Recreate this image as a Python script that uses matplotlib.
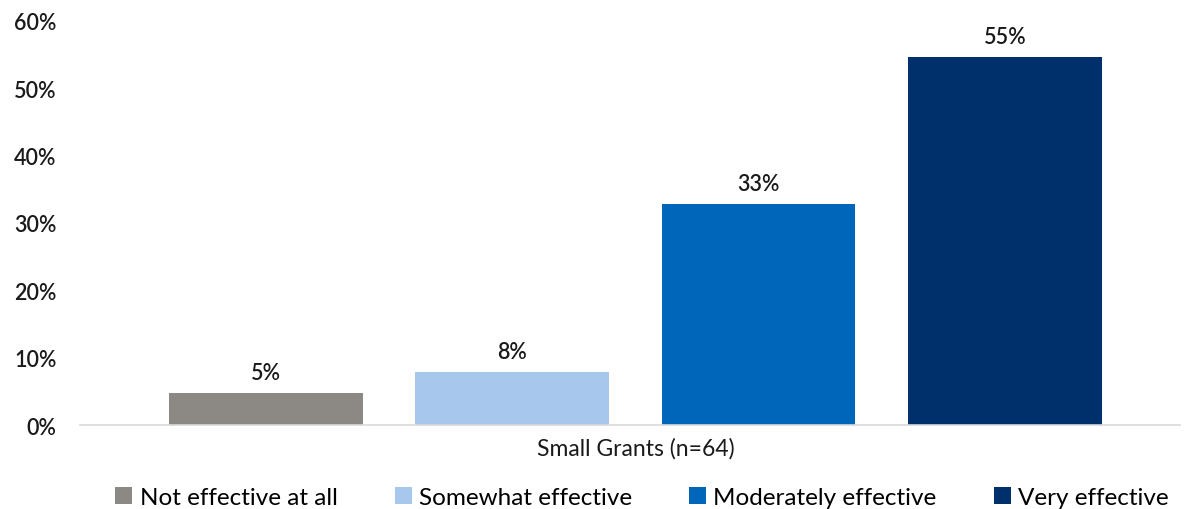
"""
Bar chart: perceived effectiveness of small grants
"""
import matplotlib
matplotlib.use("Agg")
import matplotlib.pyplot as plt
from matplotlib.ticker import PercentFormatter

plt.rcParams['font.family'] = ['Lato', 'DejaVu Sans']

# Survey data
group_label = "Small Grants (n=64)"
responses = ["Not effective at all", "Somewhat effective",
             "Moderately effective", "Very effective"]
shares = [4.7, 7.8, 32.8, 54.7]
colors = ["#8C8984", "#A8C7EC", "#0066B9", "#00306B"]
y_ticks = [0, 10, 20, 30, 40, 50, 60]

fig = plt.figure(figsize=(11.87, 5.10), dpi=100)
ax = fig.add_axes([0.0674, 0.1647, 0.9266, 0.7922])

bar_width = 0.176
pitch = 0.224
n = len(responses)
for i, (name, val, col) in enumerate(zip(responses, shares, colors)):
    x = (i - (n - 1) / 2) * pitch
    ax.bar(x, val, width=bar_width, color=col, label=name)
    ax.text(x, val + 1.5, f"{val:.0f}%", ha='center', va='bottom',
            fontsize=15.5, fontweight='semibold', color='#1a1a1a')

ax.set_xlim(-0.505, 0.495)
ax.set_ylim(0, 60)
ax.set_yticks(y_ticks)
ax.yaxis.set_major_formatter(PercentFormatter(decimals=0))
ax.set_xticks([0])
ax.set_xticklabels([group_label])

for side in ['top', 'right', 'left']:
    ax.spines[side].set_visible(False)
ax.spines['bottom'].set_color('#D9D9D9')
ax.spines['bottom'].set_linewidth(1.2)

ax.tick_params(axis='y', length=0, pad=17, labelsize=15.5, labelcolor='#1a1a1a')
ax.tick_params(axis='x', length=0, pad=9, labelsize=16.5, labelcolor='#1a1a1a')
for lbl in ax.get_yticklabels():
    lbl.set_fontweight('semibold')

ax.legend(loc='center', bbox_to_anchor=(0.511, -0.18), ncol=4,
          frameon=False, fontsize=17.5, handlelength=0.7, handleheight=0.7,
          handletextpad=0.3, columnspacing=2.35)

fig.savefig("out.png", dpi=100)
